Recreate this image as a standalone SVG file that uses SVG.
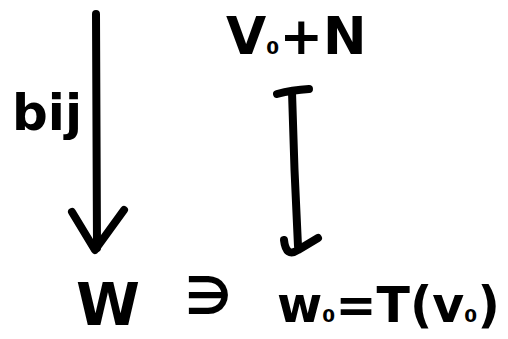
<svg xmlns="http://www.w3.org/2000/svg" width="508" height="339" viewBox="0 0 508 339">
<style>
.t{font-family:"DejaVu Sans",sans-serif;font-weight:bold;fill:#000}
.s{fill:none;stroke:#000;stroke-width:8;stroke-linecap:round;stroke-linejoin:round}
</style>
<rect width="508" height="339" fill="#fff"/>
<g id="node-top"><text class="t" x="226" y="54" font-size="52">V<tspan font-size="30">₀</tspan>+N</text></g>
<g id="node-W"><text class="t" x="76" y="325" font-size="58">W</text></g>
<g id="node-contains"><text class="t" x="185" y="314" font-size="52">∋</text></g>
<g id="node-w0"><text class="t" x="277" y="322" font-size="49">w<tspan font-size="30">₀</tspan>=T(v<tspan font-size="30">₀</tspan>)</text></g>
<g id="label-bij"><text class="t" x="12" y="130" font-size="50">bij</text></g>
<g id="connectors">
<path class="s" d="M96 14 Q97 130 97 248"/>
<path class="s" d="M72 212 L95 250 L124 210"/>
<path class="s" d="M277 94 Q292 90 309 89"/>
<path class="s" d="M292 92 Q294 170 298 246"/>
<path class="s" d="M284 240 Q286 258 298 250 L318 238"/>
</g>
</svg>
